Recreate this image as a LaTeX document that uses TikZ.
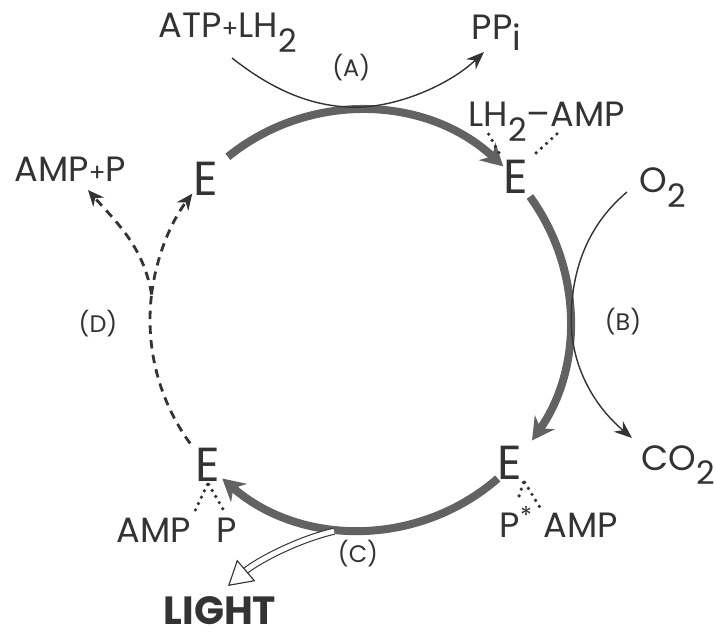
\documentclass[tikz,border=0pt]{standalone}
\usepackage{fontspec}
\setmainfont{Poppins}
\usetikzlibrary{arrows.meta,calc}
\definecolor{ink}{HTML}{333333}
\definecolor{track}{HTML}{626262}
\newcommand{\lowidx}[1]{\raisebox{-0.42em}{\scalebox{0.92}{#1}}}

\begin{document}
\begin{tikzpicture}[
  enz/.style={font=\fontsize{34}{34}\selectfont, inner sep=1pt, text=ink},
  chem/.style={font=\fontsize{25}{25}\selectfont, inner sep=1pt, text=ink},
  tag/.style={font=\fontsize{17}{17}\selectfont, inner sep=1pt, text=ink},
  cycle/.style={line width=2mm, draw=track, -{Stealth[length=5.5mm, width=6mm]}},
  sidearrow/.style={line width=1pt, draw=ink, -{Stealth[length=4.5mm, width=3.5mm]}},
  back/.style={line width=2pt, draw=ink, dash pattern=on 6pt off 4.5pt},
  bond/.style={line width=2.6pt, draw=ink, dash pattern=on 0pt off 5pt, line cap=round,
    shorten <=1pt, shorten >=2pt},
  glow/.style={draw=ink, line width=0.8pt, double=white, double distance=3.5pt,
    -{Triangle[open, length=6mm, width=7mm]}}
]
  \useasboundingbox (0,0) rectangle (17.875,15.9);
  \coordinate (C) at (9.0,7.9);

  % enzyme states
  \node[enz] (E1) at (5.15,11.43) {E};
  \node[enz] (E2) at (12.9,11.48) {E};
  \node[enz] (E3) at (12.75,4.33) {E};
  \node[enz] (E4) at (5.2,4.28) {E};

  % substrates and products
  \node[chem, anchor=base west] (atp) at (3.925,14.95) {ATP\scalebox{0.7}{+}LH\lowidx{2}};
  \node[chem, anchor=base west] (ppi) at (11.75,14.9) {PP\raisebox{-0.3em}{i}};
  \node[chem, anchor=base west] (lh) at (11.675,12.725) {LH\lowidx{2}\textendash AMP};
  \node[chem, anchor=base west] (o2) at (15.95,11.075) {O\lowidx{2}};
  \node[chem, anchor=base west] (co2) at (16.0,4.15) {CO\lowidx{2}};
  \node[chem, anchor=base west] (pstar) at (12.45,2.475) {P\textsuperscript{*}};
  \node[chem, anchor=base west] (amp3) at (13.55,2.475) {AMP};
  \node[chem, anchor=base west] (amp4) at (2.875,2.35) {AMP};
  \node[chem, anchor=base west] (p4) at (5.375,2.35) {P};
  \node[chem, anchor=base west] (ampp) at (0.325,11.35) {AMP\scalebox{0.7}{+}P};
  \node[chem, anchor=base west, font=\fontsize{28}{28}\selectfont\bfseries] (light) at (4.05,0.3) {LIGHT};

  % step labels
  \node[tag] (A) at (8.78,14.2) {(A)};
  \node[tag] (B) at (15.575,7.85) {(B)};
  \node[tag] (Cl) at (8.95,2.05) {(C)};
  \node[tag] (D) at (2.45,7.8) {(D)};

  % main cycle
  \draw[cycle] ($(C)+(129:5.25)$) arc[start angle=129, end angle=47, radius=5.25];
  \draw[cycle] ($(C)+(36:5.25)$) arc[start angle=36, end angle=-35, radius=5.25];
  \draw[cycle] ($(C)+(-49:5.25)$) arc[start angle=-49, end angle=-131, radius=5.25];

  % (D) back to free enzyme
  \draw[back] ($(C)+(216:5.25)$) arc[start angle=216, end angle=173, radius=5.25] coordinate (fork);
  \draw[back, -{Stealth[length=4mm, width=3.5mm]}] (fork) arc[start angle=173, end angle=143, radius=5.25];
  \draw[back, -{Stealth[length=4mm, width=3.5mm]}] (fork) .. controls +(-0.2,1.2) and +(0.7,-0.8) .. (2.2,11.15);

  % side reactions
  \draw[sidearrow] (5.8,14.45) .. controls (7.0,13.5) and (8.0,13.22) .. (8.9,13.22)
    .. controls (9.9,13.22) and (11.2,13.75) .. (12.1,14.6);
  \draw[sidearrow] (15.675,11.1) .. controls (14.6,10.2) and (14.28,9.0) .. (14.28,7.9)
    .. controls (14.28,6.8) and (14.8,5.8) .. (15.8,4.95);
  \draw[glow] (8.35,2.62) .. controls (7.4,2.4) and (6.4,1.85) .. (5.7,1.25);

  % bonds to the enzyme
  \draw[bond] ($(lh.base west)+(0.525,-0.15)$) -- (E2.north west);
  \draw[bond] ($(lh.base west)+(2.275,-0.15)$) -- (E2.north east);
  \draw[bond] (E3.south east) -- (pstar.north);
  \draw[bond] (E3.south east) -- (amp3.north west);
  \draw[bond] (E4.south) -- (amp4.north east);
  \draw[bond] (E4.south) -- (p4.north);
\end{tikzpicture}
\end{document}
